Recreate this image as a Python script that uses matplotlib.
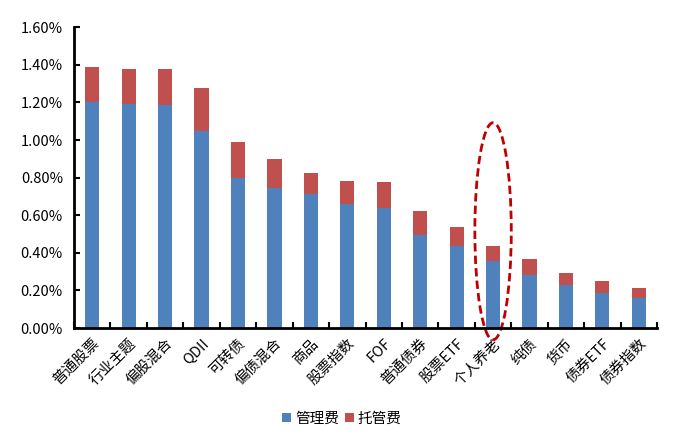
import numpy as np
import matplotlib
matplotlib.use("Agg")
from matplotlib import pyplot as plt
from matplotlib.patches import Ellipse

plt.rcParams["font.family"] = ["Noto Sans CJK SC", "DejaVu Sans"]

# Data (percent)
categories = ["普通股票", "行业主题", "偏股混合", "QDII", "可转债", "偏债混合", "商品", "股票指数",
              "FOF", "普通债券", "股票ETF", "个人养老", "纯债", "货币", "债券ETF", "债券指数"]
total_fee = [1.39, 1.38, 1.38, 1.275, 0.99, 0.90, 0.825, 0.78,
             0.777, 0.622, 0.537, 0.437, 0.367, 0.293, 0.25, 0.213]
mgmt_fee = [1.20, 1.19, 1.185, 1.05, 0.80, 0.745, 0.713, 0.66,
            0.64, 0.497, 0.438, 0.357, 0.283, 0.23, 0.187, 0.16]
custody_fee = [t - m for t, m in zip(total_fee, mgmt_fee)]

blue = "#4F81BD"
red = "#C0504D"

fig = plt.figure(figsize=(6.88, 4.47), dpi=100)
ax = fig.add_axes([0.1076, 0.266, 0.8474, 0.673])

x = np.arange(len(categories))
ax.bar(x, mgmt_fee, width=0.39, color=blue, label="管理费")
ax.bar(x, custody_fee, width=0.39, bottom=mgmt_fee, color=red, label="托管费")

ax.set_xlim(-0.5, len(categories) - 0.5)
ax.set_ylim(0, 1.6)
ax.set_yticks(np.arange(0, 1.61, 0.2))
ax.set_yticklabels([f"{v:.2f}%" for v in np.arange(0, 1.61, 0.2)], fontsize=10.5)

ax.set_xticks(x)
ax.set_xticklabels(categories, rotation=45, ha="right", va="top",
                   rotation_mode="anchor", fontsize=10.5)
ax.set_xticks(np.arange(-0.5, len(categories), 1), minor=True)
ax.tick_params(axis="x", which="major", length=0, pad=6)
ax.tick_params(axis="x", which="minor", direction="in", length=4, width=1.5)
ax.tick_params(axis="y", direction="in", length=4, width=1.5, pad=8)

for s in ["top", "right"]:
    ax.spines[s].set_visible(False)
for s in ["left", "bottom"]:
    ax.spines[s].set_linewidth(2)

# highlight ellipse around 个人养老
idx = categories.index("个人养老")
ell = Ellipse((idx, 0.515), width=1.0, height=1.155, fill=False,
              edgecolor="#C00000", linestyle=(0, (3, 1.5)), linewidth=2, clip_on=False)
ax.add_patch(ell)

fig.legend(loc="center", bbox_to_anchor=(0.497, 0.063), ncol=2, frameon=False,
           fontsize=10.5, handlelength=0.6, handleheight=0.6, handletextpad=0.3,
           columnspacing=0.4)

plt.savefig("out.png")
